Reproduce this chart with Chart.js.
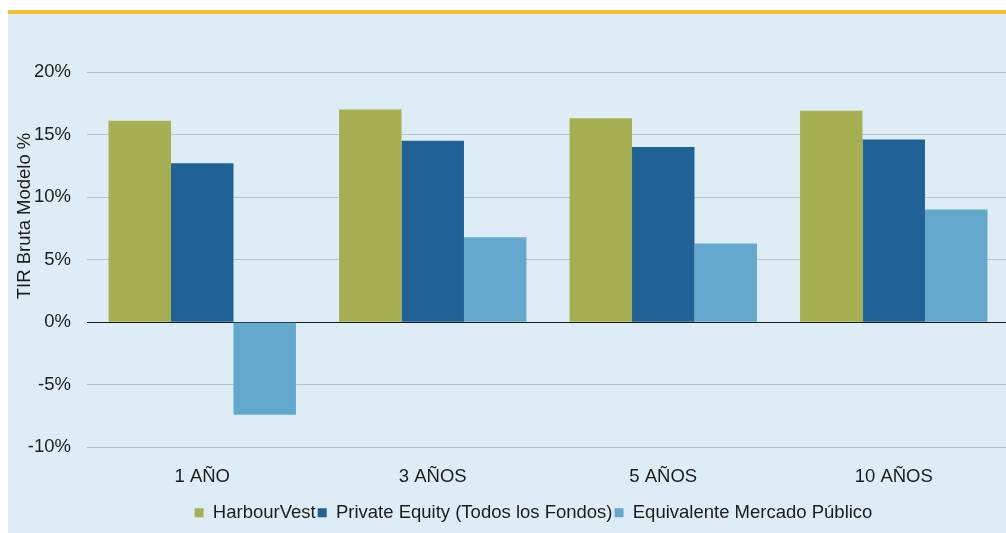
<!DOCTYPE html>
<html>
<head>
<meta charset="utf-8">
<script src="https://cdn.jsdelivr.net/npm/chart.js@4/dist/chart.umd.min.js"></script>
<style>
  html, body { margin: 0; padding: 0; background: #ffffff; overflow: hidden; width: 1006px; height: 533px; }
  #panel { position: absolute; left: 8px; top: 10px; width: 1010px; height: 523px;
           border-top: 4px solid #f6bd35; background: #deedf5; }
  #chart { display: block; }
</style>
</head>
<body>
<div id="panel"><canvas id="chart" width="1004" height="519"></canvas></div>
<script>
const categories = ['1 AÑO', '3 AÑOS', '5 AÑOS', '10 AÑOS'];
const harbourVest = [16.1, 17.0, 16.3, 16.9];
const privateEquity = [12.7, 14.5, 14.0, 14.6];
const mercadoPublico = [-7.4, 6.8, 6.3, 9.0];
const seriesNames = ['HarbourVest', 'Private Equity (Todos los Fondos)', 'Equivalente Mercado Público'];
const seriesColors = ['#a7af53', '#1f6296', '#63a8cd'];
const yTicks = [-10, -5, 0, 5, 10, 15, 20];

const font = { family: "'Liberation Sans', Arial, sans-serif", size: 18.5 };
const textColor = '#1c1c1c';

const values = [harbourVest, privateEquity, mercadoPublico];

// legend in the original is centred a bit right of the canvas centre
const legendShift = {
    id: 'legendShift',
    afterLayout(chart) {
        chart.legend.left += 25;
        chart.legend.right += 25;
    }
};

new Chart(document.getElementById('chart'), {
    type: 'bar',
    data: {
        labels: categories,
        datasets: values.map((v, i) => ({
            label: seriesNames[i],
            data: v,
            backgroundColor: seriesColors[i],
            borderWidth: 0,
            categoryPercentage: 0.813,
            barPercentage: 1.0
        }))
    },
    options: {
        responsive: false,
        animation: false,
        layout: { padding: { top: 58, right: 3, bottom: 1, left: 0 } },
        plugins: {
            legend: {
                position: 'bottom',
                labels: { boxWidth: 9, boxHeight: 9, padding: 2, color: textColor, font: font }
            },
            tooltip: { enabled: false }
        },
        scales: {
            x: {
                grid: { display: false },
                border: { display: false },
                afterFit: (scale) => { scale.height += 2; },
                ticks: { color: textColor, font: font, padding: 11 }
            },
            y: {
                min: yTicks[0],
                max: yTicks[yTicks.length - 1],
                afterBuildTicks: (scale) => { scale.ticks = yTicks.map(v => ({ value: v })); },
                afterFit: (scale) => { scale.width = 79; },
                border: { display: false },
                grid: {
                    drawTicks: false,
                    lineWidth: 1,
                    color: (ctx) => ctx.tick && ctx.tick.value === 0 ? '#1a1a1a' : '#b7c4cc'
                },
                ticks: {
                    color: textColor,
                    font: font,
                    padding: 16,
                    callback: (v) => v + '%'
                },
                title: {
                    display: true,
                    text: '                 TIR Bruta Modelo %',
                    color: textColor,
                    font: font,
                    padding: { top: 6, bottom: 0 }
                }
            }
        }
    },
    plugins: [legendShift]
});
</script>
</body>
</html>
